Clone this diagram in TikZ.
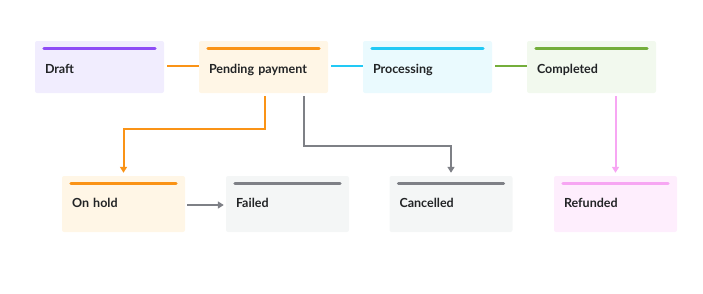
\documentclass[tikz,border=0pt]{standalone}
\usepackage{fontspec}
\setmainfont{Lato}
\usetikzlibrary{arrows.meta,positioning,calc}

% Colours
\definecolor{draftfill}{HTML}{F1EDFE}
\definecolor{draftbar}{HTML}{8E4CF6}
\definecolor{pendfill}{HTML}{FFF6E6}
\definecolor{pendbar}{HTML}{FA9316}
\definecolor{procfill}{HTML}{EAFAFE}
\definecolor{procbar}{HTML}{22C9F5}
\definecolor{compfill}{HTML}{F2F9EE}
\definecolor{compbar}{HTML}{74AE3B}
\definecolor{greyfill}{HTML}{F4F6F6}
\definecolor{greybar}{HTML}{7E8086}
\definecolor{refill}{HTML}{FEEEFD}
\definecolor{refbar}{HTML}{F7A6F3}
\definecolor{textdark}{HTML}{222426}

\begin{document}
\begin{tikzpicture}[x=1pt,y=-1pt,
    state/.style={rectangle, rounded corners=2pt, draw=none, minimum height=52pt,
        text width=109pt, inner xsep=10pt, align=left, text=textdark,
        text height=15.4pt, text depth=3pt,
        font=\fontsize{12.5}{14}\selectfont\bfseries},
    lowstate/.style={state, minimum height=56pt, text width=103pt, text height=10.6pt},
    bar/.style={line width=3pt, line cap=round},
    link/.style={line width=2pt},
    tip/.style={-{Triangle[length=6pt,width=7pt]}}
    ]
        \useasboundingbox (0,0) rectangle (703,293);

        % Top row
        \node[state, fill=draftfill] (draft) at (99.5,67) {Draft};
        \node[state, fill=pendfill] (pending) at (263.5,67) {Pending payment};
        \node[state, fill=procfill] (processing) at (427.5,67) {Processing};
        \node[state, fill=compfill] (completed) at (591.5,67) {Completed};

        % Bottom row
        \node[lowstate, fill=pendfill] (onhold) at (123.5,204) {On hold};
        \node[lowstate, fill=greyfill] (failed) at (287.5,204) {Failed};
        \node[lowstate, fill=greyfill] (cancelled) at (451,204) {Cancelled};
        \node[lowstate, fill=refill] (refunded) at (615.5,204) {Refunded};

        % Colour bars
        \draw[bar, draftbar] ([xshift=9pt,yshift=-8pt]draft.north west) -- ([xshift=-9pt,yshift=-8pt]draft.north east);
        \draw[bar, pendbar] ([xshift=9pt,yshift=-8pt]pending.north west) -- ([xshift=-9pt,yshift=-8pt]pending.north east);
        \draw[bar, procbar] ([xshift=9pt,yshift=-8pt]processing.north west) -- ([xshift=-9pt,yshift=-8pt]processing.north east);
        \draw[bar, compbar] ([xshift=9pt,yshift=-8pt]completed.north west) -- ([xshift=-9pt,yshift=-8pt]completed.north east);
        \draw[bar, pendbar] ([xshift=9pt,yshift=-8pt]onhold.north west) -- ([xshift=-9pt,yshift=-8pt]onhold.north east);
        \draw[bar, greybar] ([xshift=9pt,yshift=-8pt]failed.north west) -- ([xshift=-9pt,yshift=-8pt]failed.north east);
        \draw[bar, greybar] ([xshift=9pt,yshift=-8pt]cancelled.north west) -- ([xshift=-9pt,yshift=-8pt]cancelled.north east);
        \draw[bar, refbar] ([xshift=9pt,yshift=-8pt]refunded.north west) -- ([xshift=-9pt,yshift=-8pt]refunded.north east);

        % Top links
        \draw[link, pendbar, shorten <=3pt] ([yshift=1pt]draft.east) -- ([yshift=1pt]pending.west);
        \draw[link, procbar, shorten <=3pt] ([yshift=1pt]pending.east) -- ([yshift=1pt]processing.west);
        \draw[link, compbar, shorten <=3pt] ([yshift=1pt]processing.east) -- ([yshift=1pt]completed.west);

        % Down links
        \draw[link, tip, pendbar, shorten >=3pt] ([xshift=1.5pt,yshift=-3pt]pending.south) -- ++(0,33) -| (onhold.north);
        \draw[link, tip, greybar, shorten >=3pt] ([xshift=40.5pt,yshift=-3pt]pending.south) -- ++(0,50) -| (cancelled.north);
        \draw[link, tip, refbar, shorten <=3pt, shorten >=3pt] (completed.south -| refunded.north) -- (refunded.north);
        \draw[link, tip, greybar, shorten <=2pt, shorten >=2pt] ([yshift=-1pt]onhold.east) -- ([yshift=-1pt]failed.west);
    \end{tikzpicture}
\end{document}
